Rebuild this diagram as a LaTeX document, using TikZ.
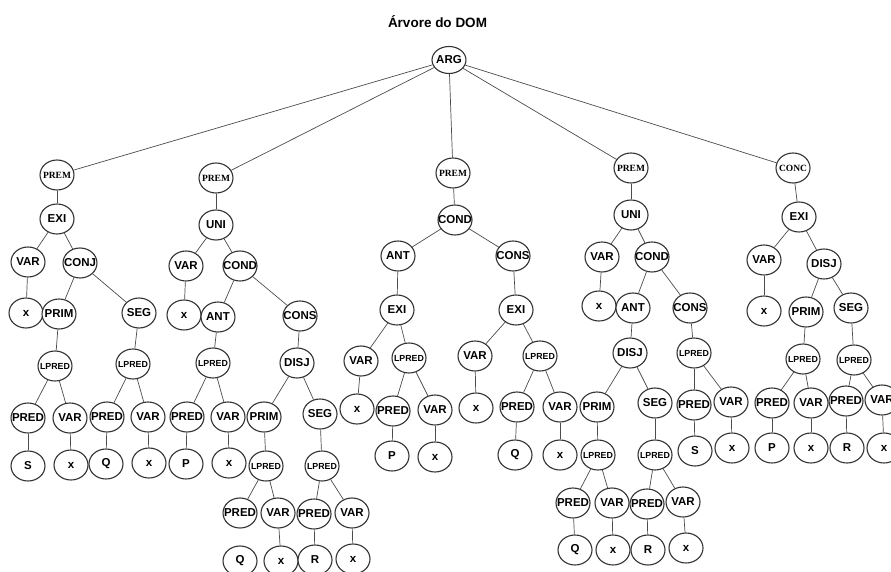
\documentclass[tikz,border=0pt]{standalone}
\usepackage{fontspec}
\setmainfont{Liberation Sans}
\newfontfamily\serifface{Liberation Serif}
\usetikzlibrary{shapes.geometric}

% tree node: fixed-size ellipse, label may overflow the outline
\newcommand\tn[4][nd]{\node[#1] (#2) at #3 {\makebox[0pt]{#4}};}

\begin{document}
\begin{tikzpicture}[x=1pt,y=-1pt,
  nd/.style={ellipse, draw=black!80, line width=1.1pt, fill=white,
    minimum width=34pt, minimum height=30pt, inner sep=0pt,
    font=\bfseries\fontsize{11.5}{13}\selectfont},
  lp/.style={nd, font=\bfseries\fontsize{8.8}{11}\selectfont},
  pm/.style={nd, font=\serifface\bfseries\fontsize{9.5}{11}\selectfont},
  edge/.style={draw=black!70, line width=0.7pt},
  ttl/.style={font=\bfseries\fontsize{13.5}{16}\selectfont, inner sep=0pt}]
\useasboundingbox (0,0) rectangle (891,572);
\fill[white] (0,0) rectangle (891,572);

\node[ttl] (title) at (437.5,22) {Árvore do DOM};
\tn[nd, minimum height=27pt]{arg}{(449,60)}{ARG}

% first premise
\tn[pm]{p1}{(57,175)}{PREM}
\tn{e1}{(57,219)}{EXI}
\tn{v1}{(28,262)}{VAR}
\tn{c1}{(80,263)}{CONJ}
\tn{x1}{(26,313)}{x}
\tn{pr1}{(59,314)}{PRIM}
\tn{sg1}{(139,313)}{SEG}
\tn[lp]{l1a}{(55,366)}{LPRED}
\tn[lp]{l1b}{(133,364)}{LPRED}
\tn{pd1a}{(28,418)}{PRED}
\tn{v1a}{(70,418)}{VAR}
\tn{pd1b}{(107,417)}{PRED}
\tn{v1b}{(148,417)}{VAR}
\tn{s1}{(28,466)}{S}
\tn{x1a}{(71,465)}{x}
\tn{q1}{(106,464)}{Q}
\tn{x1b}{(149,463)}{x}

% second premise
\tn[pm]{p2}{(216,178)}{PREM}
\tn{u2}{(216,225)}{UNI}
\tn{v2}{(186,266)}{VAR}
\tn{c2}{(240,266)}{COND}
\tn{x2}{(184,315)}{x}
\tn{a2}{(218,317)}{ANT}
\tn{cs2}{(300,316)}{CONS}
\tn[lp]{l2a}{(213,363)}{LPRED}
\tn{d2}{(297,363)}{DISJ}
\tn{pd2a}{(187,417)}{PRED}
\tn{v2a}{(228,417)}{VAR}
\tn{pm2}{(264,417)}{PRIM}
\tn{sg2}{(320,414)}{SEG}
\tn{pp2}{(186,464)}{P}
\tn{x2a}{(229,463)}{x}
\tn[lp]{l2b}{(266,466)}{LPRED}
\tn[lp]{l2c}{(322,466)}{LPRED}
\tn{pd2b}{(240,513)}{PRED}
\tn{v2b}{(278,513)}{VAR}
\tn{pd2c}{(314,514)}{PRED}
\tn{v2c}{(352,513)}{VAR}
\tn{q2}{(240,561)}{Q}
\tn{x2b}{(281,561)}{x}
\tn{r2}{(315,560)}{R}
\tn{x2c}{(353,559)}{x}

% third premise
\tn[pm]{p3}{(453,173)}{PREM}
\tn{c3}{(455,220)}{COND}
\tn{a3}{(398,256)}{ANT}
\tn{cs3}{(513,256)}{CONS}
\tn{e3a}{(397,310)}{EXI}
\tn{e3b}{(516,310)}{EXI}
\tn{v3a}{(361,361)}{VAR}
\tn[lp]{l3a}{(409,358)}{LPRED}
\tn{v3b}{(475,356)}{VAR}
\tn[lp]{l3b}{(540,356)}{LPRED}
\tn{x3a}{(357,409)}{x}
\tn{pd3a}{(393,411)}{PRED}
\tn{v3c}{(435,410)}{VAR}
\tn{x3b}{(476,408)}{x}
\tn{pd3b}{(517,407)}{PRED}
\tn{v3d}{(560,407)}{VAR}
\tn{pp3}{(392,456)}{P}
\tn{x3c}{(435,457)}{x}
\tn{q3}{(515,455)}{Q}
\tn{x3d}{(560,455)}{x}

% fourth premise
\tn[pm]{p4}{(631,168)}{PREM}
\tn{u4}{(631,215)}{UNI}
\tn{v4}{(602,257)}{VAR}
\tn{c4}{(652,257)}{COND}
\tn{x4}{(599,306)}{x}
\tn{a4}{(633,308)}{ANT}
\tn{cs4}{(690,308)}{CONS}
\tn{d4}{(630,353)}{DISJ}
\tn[lp]{l4a}{(694,353)}{LPRED}
\tn{pm4}{(597,407)}{PRIM}
\tn{sg4}{(655,403)}{SEG}
\tn{pd4a}{(694,405)}{PRED}
\tn{v4b}{(731,402)}{VAR}
\tn[lp]{l4b}{(598,455)}{LPRED}
\tn[lp]{l4c}{(655,455)}{LPRED}
\tn{s4}{(695,451)}{S}
\tn{x4b}{(732,448)}{x}
\tn{pd4b}{(573,503)}{PRED}
\tn{v4c}{(612,503)}{VAR}
\tn{pd4c}{(647,504)}{PRED}
\tn{v4d}{(683,502)}{VAR}
\tn{q4}{(575,550)}{Q}
\tn{x4c}{(613,550)}{x}
\tn{r4}{(648,550)}{R}
\tn{x4d}{(686,548)}{x}

% conclusion
\tn[pm]{cc}{(793,168)}{CONC}
\tn{e5}{(799,217)}{EXI}
\tn{v5}{(764,260)}{VAR}
\tn{d5}{(824,264)}{DISJ}
\tn{x5}{(764,311)}{x}
\tn{pm5}{(806,312)}{PRIM}
\tn{sg5}{(851,308)}{SEG}
\tn[lp]{l5a}{(803,359)}{LPRED}
\tn[lp]{l5b}{(854,360)}{LPRED}
\tn{pd5a}{(772,403)}{PRED}
\tn{v5a}{(811,403)}{VAR}
\tn{pd5b}{(846,401)}{PRED}
\tn{v5b}{(882,400)}{VAR}
\tn{pp5}{(772,448)}{P}
\tn{x5a}{(811,448)}{x}
\tn{r5}{(847,448)}{R}
\tn{x5b}{(884,448)}{x}

% connectors
\foreach \a/\b in {arg/p1, arg/p2, arg/p3, arg/p4, arg/cc,
  p1/e1, e1/v1, e1/c1, v1/x1, c1/pr1, c1/sg1, pr1/l1a, sg1/l1b,
  l1a/pd1a, l1a/v1a, l1b/pd1b, l1b/v1b, pd1a/s1, v1a/x1a, pd1b/q1, v1b/x1b,
  p2/u2, u2/v2, u2/c2, v2/x2, c2/a2, c2/cs2, a2/l2a, cs2/d2,
  l2a/pd2a, l2a/v2a, d2/pm2, d2/sg2, pd2a/pp2, v2a/x2a, pm2/l2b, sg2/l2c,
  l2b/pd2b, l2b/v2b, l2c/pd2c, l2c/v2c, v2b/x2b, pd2c/r2, v2c/x2c,
  p3/c3, c3/a3, c3/cs3, a3/e3a, cs3/e3b, e3a/v3a, e3a/l3a, e3b/v3b, e3b/l3b,
  v3a/x3a, l3a/pd3a, l3a/v3c, v3b/x3b, l3b/pd3b, l3b/v3d,
  pd3a/pp3, v3c/x3c, pd3b/q3, v3d/x3d,
  p4/u4, u4/v4, u4/c4, v4/x4, c4/a4, c4/cs4, a4/d4, cs4/l4a,
  d4/pm4, d4/sg4, l4a/pd4a, l4a/v4b, pm4/l4b, sg4/l4c, pd4a/s4, v4b/x4b,
  l4b/pd4b, l4b/v4c, l4c/pd4c, l4c/v4d, pd4b/q4, v4c/x4c, pd4c/r4, v4d/x4d,
  cc/e5, e5/v5, e5/d5, v5/x5, d5/pm5, d5/sg5, pm5/l5a, sg5/l5b,
  l5a/pd5a, l5a/v5a, l5b/pd5b, l5b/v5b, pd5a/pp5, v5a/x5a, pd5b/r5, v5b/x5b}
  \draw[edge] (\a) -- (\b);
\end{tikzpicture}
\end{document}
